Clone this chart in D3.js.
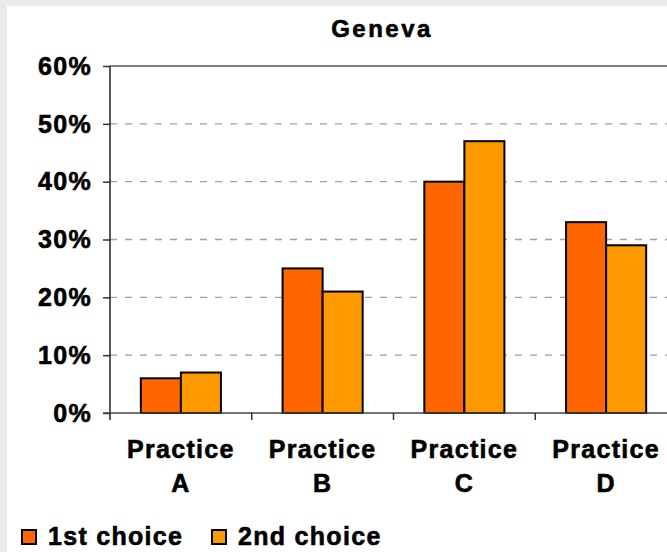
<!DOCTYPE html>
<html>
<head>
<meta charset="utf-8">
<script src="https://cdn.jsdelivr.net/npm/d3@7"></script>
<style>
  body { margin: 0; background: #ebebeb; }
  svg text { font-family: "Liberation Sans", Arial, sans-serif; font-weight: bold; fill: #000; stroke: #000; stroke-width: 0.6px; }
</style>
</head>
<body>
<div id="chart"></div>
<script>
var categories = ['Practice A', 'Practice B', 'Practice C', 'Practice D'];
var seriesNames = ['1st choice', '2nd choice'];
var firstChoice = [0.06, 0.25, 0.40, 0.33];
var secondChoice = [0.07, 0.21, 0.47, 0.29];
var yTicks = [0, 0.1, 0.2, 0.3, 0.4, 0.5, 0.6];
var colors = ['#FF6600', '#FF9900'];

var W = 667, H = 552;
var plot = { left: 110, right: 677, top: 66, bottom: 413 };

var svg = d3.select('#chart')
    .append('svg')
    .attr('width', W)
    .attr('height', H)
    .style('display', 'block');

svg.append('rect')
    .attr('width', W).attr('height', H)
    .style('fill', '#ebebeb');
svg.append('rect')
    .attr('x', 7).attr('y', 6)
    .attr('width', W - 7).attr('height', H - 6)
    .style('fill', '#ffffff');

var y = d3.scaleLinear()
    .domain([0, 0.6])
    .range([plot.bottom, plot.top]);

var x0 = d3.scaleBand()
    .domain(categories)
    .range([plot.left, plot.right])
    .paddingInner(0.435)
    .paddingOuter(0.2175);

var x1 = d3.scaleBand()
    .domain(seriesNames)
    .range([0, x0.bandwidth()]);

// gridlines
svg.selectAll('.grid')
    .data(yTicks.filter(function(d) { return d > 0 && d < 0.6; }))
    .enter().append('line')
    .attr('x1', plot.left).attr('x2', W)
    .attr('y1', function(d) { return y(d); })
    .attr('y2', function(d) { return y(d); })
    .style('stroke', '#a0a0a0')
    .style('stroke-width', 1.3)
    .style('stroke-dasharray', '7,8');

svg.append('line')
    .attr('x1', plot.left).attr('x2', W)
    .attr('y1', y(0.6)).attr('y2', y(0.6))
    .style('stroke', '#808080')
    .style('stroke-width', 2);

// bars
var rows = categories.map(function(c, i) {
    return { cat: c, vals: [firstChoice[i], secondChoice[i]] };
});

var groups = svg.selectAll('.grp')
    .data(rows)
    .enter().append('g')
    .attr('transform', function(d) { return 'translate(' + x0(d.cat) + ',0)'; });

groups.selectAll('rect')
    .data(function(d) { return d.vals.map(function(v, j) { return { s: seriesNames[j], v: v, j: j }; }); })
    .enter().append('rect')
    .attr('x', function(d) { return x1(d.s); })
    .attr('width', x1.bandwidth())
    .attr('y', function(d) { return y(d.v); })
    .attr('height', function(d) { return y(0) - y(d.v); })
    .style('fill', function(d) { return colors[d.j]; })
    .style('stroke', '#000')
    .style('stroke-width', 2);

// y axis
var yAxis = svg.append('g')
    .attr('transform', 'translate(' + plot.left + ',0)')
    .call(d3.axisLeft(y).tickValues(yTicks).tickFormat(d3.format('.0%')).tickSize(7).tickPadding(11));
yAxis.select('.domain').remove();
yAxis.selectAll('.tick line').style('stroke', '#333').style('stroke-width', 1.5);
yAxis.selectAll('text')
    .style('font-size', '25px')
    .style('letter-spacing', '1.3px')
    .attr('dy', '0.33em');
svg.append('line')
    .attr('x1', plot.left).attr('x2', plot.left)
    .attr('y1', plot.top).attr('y2', plot.bottom + 7)
    .style('stroke', '#222').style('stroke-width', 1.5);

// x axis
svg.append('line')
    .attr('x1', plot.left - 7).attr('x2', W)
    .attr('y1', plot.bottom).attr('y2', plot.bottom)
    .style('stroke', '#444').style('stroke-width', 1.5);

var gap = (x0.step() - x0.bandwidth()) / 2;
svg.selectAll('.xtick')
    .data(categories.slice(1))
    .enter().append('line')
    .attr('x1', function(d) { return x0(d) - gap; })
    .attr('x2', function(d) { return x0(d) - gap; })
    .attr('y1', plot.bottom).attr('y2', plot.bottom + 7)
    .style('stroke', '#333').style('stroke-width', 1.5);

var xl = svg.selectAll('.xlab')
    .data(categories)
    .enter().append('text')
    .attr('text-anchor', 'middle')
    .style('font-size', '25px')
    .style('letter-spacing', '1.3px')
    .attr('transform', function(d) { return 'translate(' + (x0(d) + x0.bandwidth() / 2) + ',0)'; });
xl.append('tspan').attr('x', 0).attr('y', 458).text(function(d) { return d.split(' ')[0]; });
xl.append('tspan').attr('x', 0).attr('y', 492).text(function(d) { return d.split(' ')[1]; });

// title
svg.append('text')
    .attr('x', 382).attr('y', 37)
    .attr('text-anchor', 'middle')
    .style('font-size', '24px')
    .style('letter-spacing', '2.5px')
    .text('Geneva');

// legend
var legX = [22, 212];
var leg = svg.selectAll('.leg')
    .data(seriesNames)
    .enter().append('g')
    .attr('transform', function(d, i) { return 'translate(' + legX[i] + ',530)'; });
leg.append('rect')
    .attr('width', 14).attr('height', 14)
    .style('fill', function(d, i) { return colors[i]; })
    .style('stroke', '#000').style('stroke-width', 2);
leg.append('text')
    .attr('x', 26).attr('y', 15)
    .style('font-size', '25px')
    .style('letter-spacing', '1.3px')
    .text(function(d) { return d; });
</script>
</body>
</html>
